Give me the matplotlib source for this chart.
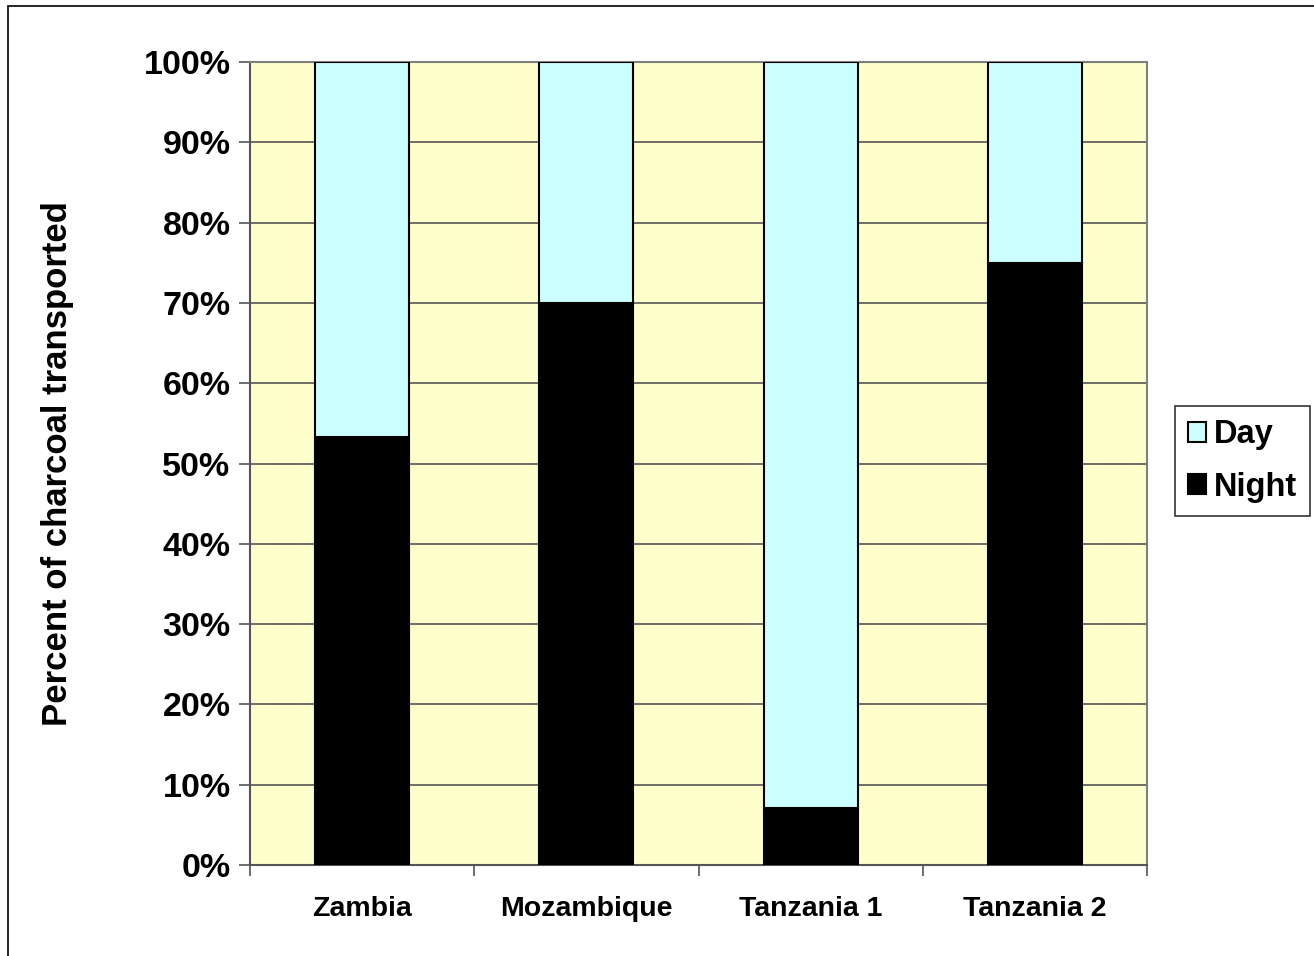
import numpy as np
import matplotlib
matplotlib.use('Agg')
import matplotlib.pyplot as plt
from matplotlib.patches import Rectangle

sites = ['Zambia', 'Mozambique', 'Tanzania 1', 'Tanzania 2']
night = [53.3, 70.0, 7.1, 75.0]
day = [100 - v for v in night]
yticks = np.arange(0, 101, 10)

plt.rcParams['font.family'] = ['Liberation Sans', 'DejaVu Sans']
plt.rcParams['font.weight'] = 'bold'

fig = plt.figure(figsize=(13.14, 9.56), dpi=100)
ax = fig.add_axes([250 / 1314, 91 / 956, 897 / 1314, 803 / 956])
ax.set_facecolor('#ffffcc')

x = np.arange(len(sites))
ax.bar(x, night, width=0.42, color='black', edgecolor='black', lw=1.5, label='Night', zorder=3)
ax.bar(x, day, bottom=night, width=0.42, color='#ccffff', edgecolor='black', lw=1.5,
       label='Day', zorder=3)

ax.set_xlim(-0.5, len(sites) - 0.5)
ax.set_ylim(0, 100)
ax.set_yticks(yticks)
ax.set_yticklabels(['{}%'.format(v) for v in yticks], fontsize=24.5, fontweight='bold')
ax.yaxis.grid(True, color='#555555', lw=1.2, zorder=1)
ax.set_xticks(x)
ax.set_xticklabels(sites, fontsize=20.5, fontweight='bold')
ax.set_xticks(np.arange(-0.5, len(sites)), minor=True)
ax.tick_params(axis='x', which='major', length=0, pad=22)
ax.tick_params(axis='x', which='minor', length=8, width=1.2, color='#555555')
ax.tick_params(axis='y', length=8, width=1.2, color='#555555', pad=6)
for s in ax.spines.values():
    s.set_color('#808080')
    s.set_linewidth(1.5)
ax.spines['left'].set_color('#555555')
ax.spines['bottom'].set_color('#555555')

ax.set_ylabel('Percent of charcoal transported', fontsize=25, fontweight='bold', labelpad=50)

h, l = ax.get_legend_handles_labels()
leg = fig.legend(h[::-1], l[::-1], loc='center left', bbox_to_anchor=(1175 / 1314, 1 - 461 / 956),
                 prop={'weight': 'bold', 'size': 23.5}, frameon=True, fancybox=False,
                 handlelength=0.55, handleheight=0.55, handletextpad=0.25, labelspacing=0.65,
                 borderpad=0.4, edgecolor='black', borderaxespad=0)
leg.get_frame().set_linewidth(1.2)

fig.patches.append(Rectangle((8 / 1314, -0.05), 1.1, 1 - 6 / 956 + 0.05, transform=fig.transFigure,
                             fill=False, edgecolor='black', lw=1.2, clip_on=False))

fig.savefig('out.png', dpi=100)
